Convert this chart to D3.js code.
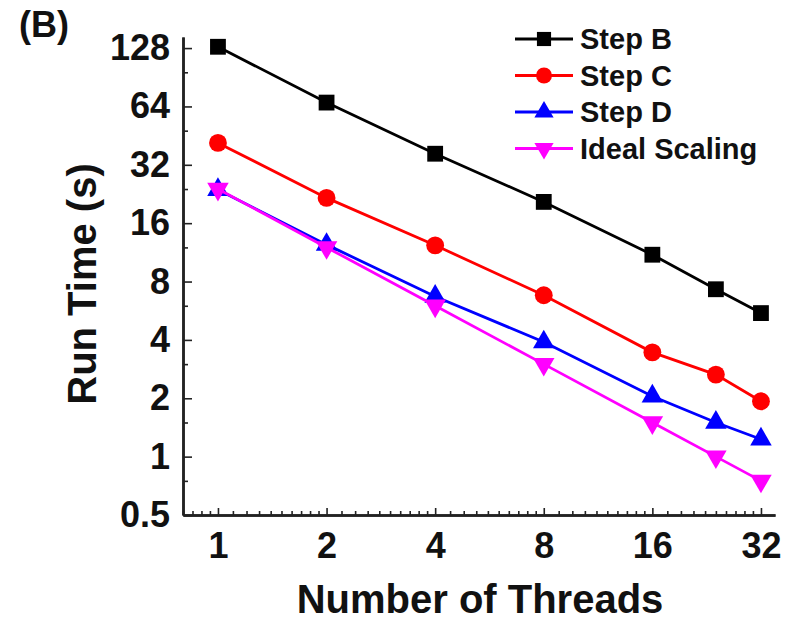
<!DOCTYPE html>
<html lang="en">
<head>
<meta charset="utf-8">
<title>Run time vs threads</title>
<script src="https://cdn.jsdelivr.net/npm/d3@7"></script>
<style>
  body { margin: 0; background: #fff; }
  text { font-family: "Liberation Sans", Arial, sans-serif; font-weight: bold; fill: #111; }
</style>
</head>
<body>
<script>
// data
var threads = [1, 2, 4, 8, 16, 24, 32];
var stepB = [130, 67, 36.5, 20.6, 11.0, 7.3, 5.5];
var stepC = [41.5, 21.6, 12.3, 6.8, 3.45, 2.65, 1.93];
var stepD = [23.8, 12.4, 6.7, 3.9, 2.05, 1.5, 1.23];
var ideal = [24, 12, 6, 3, 1.5, 1.0, 0.75];

var seriesNames = ["Step B", "Step C", "Step D", "Ideal Scaling"];
var xTicks = [1, 2, 4, 8, 16, 32];
var yTicks = [0.5, 1, 2, 4, 8, 16, 32, 64, 128];
var yMinor = [0.75, 1.5, 3, 6, 12, 24, 48, 96];

var w = 796, h = 624;
// plot edges (note: "top" is a reserved window prop, so prefixed)
var pLeft = 183, pRight = 775, pTop = 37, pBottom = 515;

var svg = d3.select("body").append("svg")
  .attr("width", w)
  .attr("height", h);

var x = d3.scaleLog().base(2).domain([0.8, 35]).range([pLeft, pRight]);
var y = d3.scaleLog().base(2).domain([0.5, 146]).range([pBottom, pTop]);

// minor x ticks: 9 linear steps inside each octave
var xMinor = [];
[0.5, 1, 2, 4, 8, 16, 32].forEach(function(b) {
  for (var k = 1; k <= 9; k++) {
    var v = b + k * b / 10;
    if (v >= 0.8 && v <= 35) xMinor.push(v);
  }
});

// axes
svg.append("g")
  .attr("transform", "translate(0," + pBottom + ")")
  .call(d3.axisBottom(x).tickValues(xMinor).tickFormat("").tickSizeInner(-4).tickSizeOuter(0));
svg.append("g")
  .attr("transform", "translate(0," + pBottom + ")")
  .call(d3.axisBottom(x).tickValues(xTicks).tickFormat(function(d) { return d; })
    .tickSizeInner(-7).tickSizeOuter(0).tickPadding(17));

svg.append("g")
  .attr("transform", "translate(" + pLeft + ",0)")
  .call(d3.axisLeft(y).tickValues(yMinor).tickFormat("").tickSizeInner(-5).tickSizeOuter(0));
svg.append("g")
  .attr("transform", "translate(" + pLeft + ",0)")
  .call(d3.axisLeft(y).tickValues(yTicks).tickFormat(function(d) { return d; })
    .tickSizeInner(-9).tickSizeOuter(0).tickPadding(13));

svg.selectAll(".domain").attr("stroke", "#222").attr("stroke-width", 2.5);
svg.selectAll(".tick line").attr("stroke", "#222").attr("stroke-width", 1.6);
svg.selectAll(".tick text")
  .attr("font-size", "36px")
  .attr("font-family", "'Liberation Sans', Arial, sans-serif")
  .attr("font-weight", "bold")
  .attr("fill", "#111");

// axis titles
svg.append("text")
  .attr("x", 480)
  .attr("y", 613)
  .attr("text-anchor", "middle")
  .attr("font-size", "40px")
  .text("Number of Threads");

svg.append("text")
  .attr("transform", "translate(96,284) rotate(-90)")
  .attr("text-anchor", "middle")
  .attr("font-size", "40px")
  .text("Run Time (s)");

svg.append("text")
  .attr("x", 19)
  .attr("y", 37)
  .attr("font-size", "36px")
  .text("(B)");

// series
var series = [
  { name: seriesNames[0], values: stepB, color: "#000000", symbol: d3.symbolSquare, size: 250, rot: 0 },
  { name: seriesNames[1], values: stepC, color: "#ff0000", symbol: d3.symbolCircle, size: 250, rot: 0 },
  { name: seriesNames[2], values: stepD, color: "#0000ff", symbol: d3.symbolTriangle, size: 200, rot: 0 },
  { name: seriesNames[3], values: ideal, color: "#ff00ff", symbol: d3.symbolTriangle, size: 200, rot: 180 }
];

var line = d3.line()
  .x(function(d) { return x(d[0]); })
  .y(function(d) { return y(d[1]); });

series.forEach(function(s) {
  var pts = threads.map(function(t, i) { return [t, s.values[i]]; });
  var g = svg.append("g");
  g.append("path")
    .datum(pts)
    .attr("d", line)
    .attr("fill", "none")
    .attr("stroke", s.color)
    .attr("stroke-width", 2.8);
  g.selectAll("path.mark")
    .data(pts)
    .enter()
    .append("path")
    .attr("class", "mark")
    .attr("d", d3.symbol().type(s.symbol).size(s.size))
    .attr("transform", function(d) {
      return "translate(" + x(d[0]) + "," + y(d[1]) + ") rotate(" + s.rot + ")";
    })
    .attr("fill", s.color);
});

// legend
var legend = svg.append("g").attr("transform", "translate(515,39)");
var rows = legend.selectAll("g")
  .data(series)
  .enter()
  .append("g")
  .attr("transform", function(d, i) { return "translate(0," + (i * 36.5) + ")"; });
rows.append("line")
  .attr("x1", 0).attr("x2", 58)
  .attr("y1", 0).attr("y2", 0)
  .attr("stroke", function(d) { return d.color; })
  .attr("stroke-width", 2.8);
rows.append("path")
  .attr("d", function(d) { return d3.symbol().type(d.symbol).size(d.size * 0.8)(); })
  .attr("transform", function(d) { return "translate(29,0) rotate(" + d.rot + ")"; })
  .attr("fill", function(d) { return d.color; });
rows.append("text")
  .attr("x", 65)
  .attr("dy", "0.36em")
  .attr("font-size", "29px")
  .text(function(d) { return d.name; });
</script>
</body>
</html>
